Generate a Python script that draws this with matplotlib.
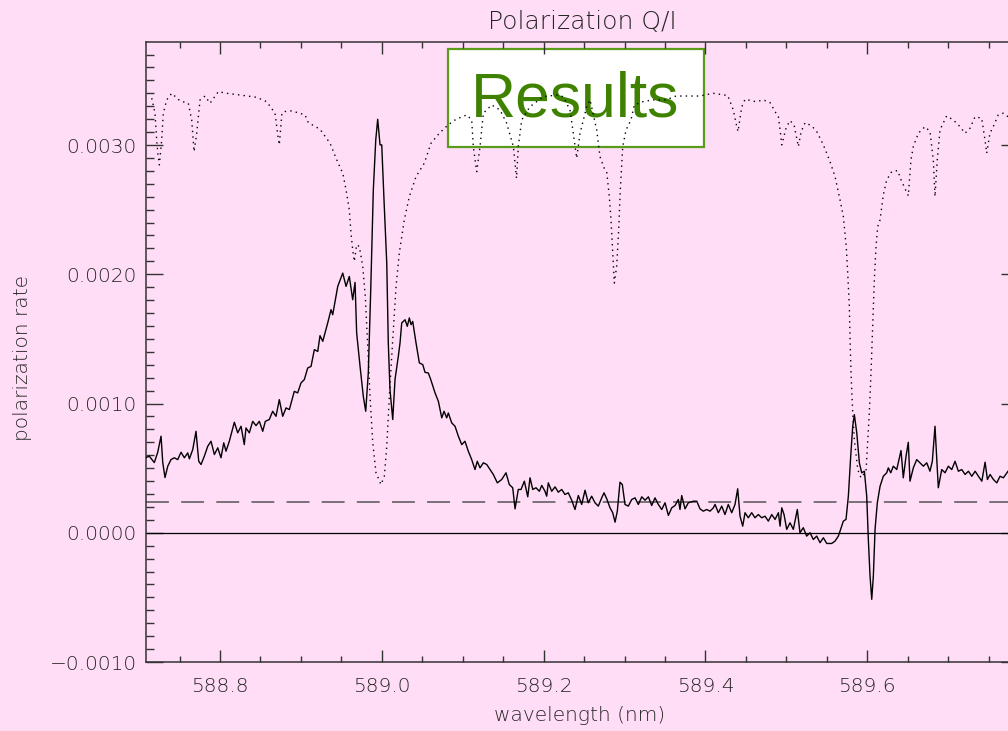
import numpy as np
import matplotlib
matplotlib.use("Agg")
import matplotlib.pyplot as plt
from matplotlib.patches import Rectangle
from matplotlib.ticker import MultipleLocator, FormatStrFormatter, FuncFormatter

# Q/I polarization rate, values in units of 1e-4
wavelength_qi = [
    588.7085, 588.7126, 588.7188, 588.7230, 588.7271, 588.7292, 588.7320, 588.7354, 588.7394, 588.7435,
    588.7477, 588.7518, 588.7559, 588.7601, 588.7621, 588.7663, 588.7703, 588.7737, 588.7765, 588.7806,
    588.7848, 588.7889, 588.7930, 588.7972, 588.8012, 588.8046, 588.8074, 588.8115, 588.8148, 588.8177,
    588.8219, 588.8260, 588.8300, 588.8321, 588.8362, 588.8404, 588.8445, 588.8486, 588.8528, 588.8560,
    588.8609, 588.8651, 588.8692, 588.8733, 588.8775, 588.8816, 588.8857, 588.8918, 588.8960, 588.9001,
    588.9042, 588.9084, 588.9125, 588.9166, 588.9208, 588.9236, 588.9270, 588.9331, 588.9372, 588.9393,
    588.9455, 588.9517, 588.9558, 588.9598, 588.9640, 588.9669, 588.9689, 588.9731, 588.9771, 588.9801,
    588.9833, 588.9863, 588.9895, 588.9925, 588.9949, 588.9978, 588.9999, 589.0027, 589.0061, 589.0080,
    589.0101, 589.0135, 589.0163, 589.0204, 589.0225, 589.0246, 589.0287, 589.0315, 589.0340, 589.0361,
    589.0382, 589.0423, 589.0464, 589.0506, 589.0534, 589.0575, 589.0605, 589.0658, 589.0699, 589.0741,
    589.0769, 589.0802, 589.0822, 589.0864, 589.0905, 589.0946, 589.0988, 589.1028, 589.1069, 589.1111,
    589.1152, 589.1180, 589.1214, 589.1255, 589.1297, 589.1338, 589.1378, 589.1428, 589.1482, 589.1535,
    589.1576, 589.1618, 589.1647, 589.1687, 589.1721, 589.1762, 589.1804, 589.1832, 589.1866, 589.1906,
    589.1947, 589.1977, 589.2017, 589.2038, 589.2058, 589.2100, 589.2141, 589.2182, 589.2224, 589.2264,
    589.2305, 589.2347, 589.2388, 589.2429, 589.2471, 589.2512, 589.2552, 589.2594, 589.2635, 589.2676,
    589.2718, 589.2747, 589.2780, 589.2821, 589.2854, 589.2883, 589.2911, 589.2944, 589.2973, 589.3006,
    589.3047, 589.3089, 589.3130, 589.3171, 589.3213, 589.3254, 589.3295, 589.3336, 589.3377, 589.3418,
    589.3460, 589.3501, 589.3542, 589.3584, 589.3625, 589.3665, 589.3686, 589.3707, 589.3748, 589.3789,
    589.3851, 589.3893, 589.3933, 589.3974, 589.4016, 589.4057, 589.4098, 589.4119, 589.4160, 589.4202,
    589.4242, 589.4283, 589.4325, 589.4366, 589.4399, 589.4428, 589.4461, 589.4490, 589.4530, 589.4572,
    589.4613, 589.4654, 589.4696, 589.4737, 589.4778, 589.4820, 589.4861, 589.4902, 589.4923, 589.4944,
    589.4972, 589.5005, 589.5046, 589.5087, 589.5136, 589.5169, 589.5210, 589.5252, 589.5293, 589.5334,
    589.5376, 589.5417, 589.5458, 589.5500, 589.5561, 589.5602, 589.5643, 589.5664, 589.5705, 589.5738,
    589.5767, 589.5796, 589.5821, 589.5841, 589.5871, 589.5903, 589.5932, 589.5965, 589.5994, 589.6014,
    589.6035, 589.6056, 589.6076, 589.6097, 589.6125, 589.6159, 589.6199, 589.6241, 589.6261, 589.6291,
    589.6323, 589.6365, 589.6418, 589.6446, 589.6480, 589.6508, 589.6529, 589.6570, 589.6612, 589.6653,
    589.6694, 589.6736, 589.6776, 589.6805, 589.6838, 589.6879, 589.6921, 589.6962, 589.7003, 589.7045,
    589.7086, 589.7127, 589.7169, 589.7210, 589.7251, 589.7293, 589.7334, 589.7375, 589.7417, 589.7457,
    589.7486, 589.7519, 589.7560, 589.7602, 589.7642, 589.7683, 589.7741,
]
qi_e4 = [
    5.82, 5.92, 5.43, 6.23, 7.47, 5.43, 4.27, 5.15, 5.66, 5.80,
    5.66, 6.23, 5.80, 6.18, 5.72, 6.44, 7.85, 5.53, 5.28, 5.92,
    6.69, 7.08, 6.05, 6.57, 5.80, 6.96, 6.31, 7.08, 7.85, 8.55,
    7.73, 8.24, 6.82, 8.11, 7.73, 8.62, 8.29, 8.62, 7.85, 8.62,
    8.76, 9.40, 9.01, 10.30, 9.01, 9.66, 9.53, 10.94, 10.82, 11.59,
    11.85, 12.75, 12.87, 14.17, 14.03, 15.25, 14.81, 16.23, 17.26, 16.87,
    19.06, 20.09, 19.06, 19.83, 18.03, 19.37, 15.46, 12.87, 10.56, 9.40,
    12.39, 18.80, 26.53, 30.39, 31.99, 30.01, 30.01, 25.76, 20.87, 14.71,
    11.07, 8.76, 11.85, 13.65, 14.68, 16.23, 16.48, 15.97, 16.62, 16.10,
    16.35, 14.68, 13.14, 13.01, 12.41, 12.36, 11.85, 10.82, 10.17, 8.89,
    9.40, 8.89, 9.27, 8.50, 8.24, 7.47, 6.82, 7.08, 6.31, 5.66,
    4.89, 5.53, 5.02, 5.41, 5.28, 4.89, 4.51, 3.86, 4.12, 4.64,
    3.73, 3.48, 1.85, 3.35, 3.35, 3.99, 2.78, 4.25, 3.35, 3.48,
    3.21, 3.66, 3.21, 2.83, 3.86, 3.21, 3.55, 3.14, 3.35, 2.96,
    3.09, 2.52, 1.80, 2.88, 2.19, 3.29, 2.32, 2.83, 2.32, 2.06,
    2.70, 3.09, 2.63, 1.93, 1.55, 0.82, 1.67, 3.91, 3.73, 2.19,
    2.06, 2.57, 2.70, 2.19, 2.78, 2.52, 2.78, 2.11, 2.70, 2.19,
    1.80, 2.32, 1.34, 1.93, 2.11, 2.57, 1.80, 2.88, 1.85, 2.32,
    2.44, 2.44, 1.85, 1.67, 1.80, 1.67, 1.93, 2.19, 1.55, 2.06,
    1.41, 2.19, 1.55, 2.19, 3.40, 1.28, 0.51, 1.55, 1.16, 1.55,
    1.16, 1.41, 1.16, 1.28, 0.90, 1.41, 1.03, 1.55, 0.51, 1.93,
    1.41, 0.26, 0.77, 0.26, 1.80, 0.00, 0.39, -0.26, 0.00, -0.52,
    -0.26, -0.77, -0.39, -0.83, -0.83, -0.65, -0.26, 0.12, 0.90, 1.03,
    2.83, 5.92, 8.24, 9.14, 7.73, 5.41, 4.64, 4.76, 2.83, -0.52,
    -3.35, -5.15, -3.35, 0.26, 2.32, 3.60, 4.37, 4.64, 5.02, 4.64,
    5.15, 4.89, 6.36, 4.25, 5.92, 7.00, 3.99, 5.02, 5.66, 5.41,
    5.15, 5.41, 4.76, 5.53, 8.24, 3.48, 4.89, 4.64, 5.15, 4.89,
    5.53, 4.76, 4.89, 4.51, 4.76, 4.37, 4.76, 4.37, 3.99, 5.46,
    4.12, 4.51, 4.12, 3.86, 4.37, 4.25, 4.76,
]

# scaled intensity profile (dotted), same units
wavelength_int = [
    588.7156, 588.7196, 588.7217, 588.7233, 588.7250, 588.7279, 588.7299, 588.7341, 588.7403, 588.7506,
    588.7608, 588.7650, 588.7679, 588.7712, 588.7753, 588.7815, 588.7876, 588.7979, 588.8083, 588.8247,
    588.8454, 588.8577, 588.8680, 588.8717, 588.8733, 588.8763, 588.8782, 588.8886, 588.9051, 588.9091,
    588.9236, 588.9360, 588.9443, 588.9517, 588.9558, 588.9598, 588.9619, 588.9640, 588.9660, 588.9689,
    588.9722, 588.9764, 588.9796, 588.9826, 588.9854, 588.9888, 588.9928, 588.9990, 589.0031, 589.0061,
    589.0093, 589.0135, 589.0176, 589.0216, 589.0278, 589.0340, 589.0423, 589.0525, 589.0608, 589.0711,
    589.0818, 589.0917, 589.1050, 589.1111, 589.1131, 589.1173, 589.1214, 589.1255, 589.1358, 589.1461,
    589.1544, 589.1626, 589.1665, 589.1687, 589.1729, 589.1832, 589.1996, 589.2162, 589.2243, 589.2326,
    589.2367, 589.2409, 589.2450, 589.2533, 589.2574, 589.2656, 589.2697, 589.2747, 589.2780, 589.2812,
    589.2833, 589.2854, 589.2874, 589.2903, 589.2928, 589.2948, 589.2978, 589.3019, 589.3080, 589.3121,
    589.3225, 589.3349, 589.3513, 589.3637, 589.3760, 589.3925, 589.4098, 589.4276, 589.4345, 589.4375,
    589.4403, 589.4449, 589.4490, 589.4626, 589.4716, 589.4799, 589.4873, 589.4902, 589.4923, 589.4944,
    589.4997, 589.5046, 589.5096, 589.5149, 589.5182, 589.5232, 589.5314, 589.5376, 589.5458, 589.5540,
    589.5602, 589.5664, 589.5705, 589.5742, 589.5759, 589.5779, 589.5788, 589.5800, 589.5821, 589.5841,
    589.5883, 589.5923, 589.5985, 589.6026, 589.6047, 589.6068, 589.6088, 589.6109, 589.6130, 589.6159,
    589.6199, 589.6241, 589.6303, 589.6377, 589.6418, 589.6455, 589.6508, 589.6541, 589.6570, 589.6632,
    589.6715, 589.6776, 589.6817, 589.6838, 589.6866, 589.6900, 589.6982, 589.7064, 589.7147, 589.7209,
    589.7271, 589.7333, 589.7415, 589.7456, 589.7477, 589.7517, 589.7558, 589.7620, 589.7682, 589.7741,
]
int_e4 = [
    33.62, 32.46, 30.39, 29.24, 28.46, 30.39, 32.46, 33.49, 34.00, 33.41,
    33.23, 31.94, 29.49, 30.91, 33.49, 33.79, 33.23, 34.13, 34.00, 33.87,
    33.69, 33.35, 32.46, 30.65, 30.01, 32.33, 32.58, 32.64, 32.33, 31.73,
    31.22, 30.14, 28.85, 27.82, 26.53, 24.98, 23.18, 21.89, 20.99, 22.28,
    22.15, 20.60, 18.28, 14.42, 10.56, 6.96, 4.64, 3.73, 4.37, 6.69,
    10.56, 14.94, 19.06, 21.64, 24.21, 26.01, 27.56, 28.59, 30.14, 30.91,
    31.55, 31.99, 32.33, 31.94, 29.88, 27.94, 29.88, 32.46, 33.10, 32.71,
    31.68, 29.88, 27.43, 29.88, 31.94, 32.97, 33.74, 33.87, 33.74, 32.71,
    30.91, 28.98, 30.91, 32.97, 33.49, 31.17, 29.10, 28.23, 27.92, 26.01,
    24.21, 21.64, 19.32, 20.60, 23.44, 26.53, 29.88, 31.17, 31.94, 33.10,
    33.35, 33.49, 33.49, 33.79, 33.79, 33.79, 34.00, 33.83, 32.71, 31.79,
    31.04, 32.94, 33.54, 33.35, 33.49, 33.28, 32.46, 32.19, 31.17, 30.01,
    31.32, 31.89, 31.55, 29.88, 31.01, 31.73, 31.48, 31.04, 30.01, 28.72,
    27.56, 25.76, 24.47, 22.05, 20.09, 17.51, 14.94, 12.36, 9.27, 7.21,
    4.89, 4.25, 4.76, 9.27, 12.36, 15.97, 19.57, 22.15, 23.69, 24.21,
    26.14, 27.30, 27.94, 28.02, 27.30, 26.79, 26.07, 28.85, 29.88, 30.91,
    31.42, 31.04, 28.85, 26.01, 28.85, 31.17, 32.25, 31.94, 31.42, 30.91,
    31.30, 32.19, 32.07, 30.39, 29.37, 30.91, 31.42, 32.33, 32.46, 32.19,
]

background_level_e4 = 2.36

x_range = (588.7085, 589.7864)
y_range = (-10.0, 37.97)

BG = "#ffddf6"
INK = "#262626"


def main():
    plt.rcParams["font.family"] = ["DejaVu Sans"]
    plt.rcParams["font.weight"] = 200
    fig = plt.figure(figsize=(10.08, 7.31), dpi=100, facecolor=BG)
    ax = fig.add_axes([146 / 1008, 69 / 731, 872 / 1008, 620 / 731])
    ax.set_facecolor(BG)

    scale = 1e-4
    wq = np.array(wavelength_qi)
    q = np.array(qi_e4) * scale
    wi = np.array(wavelength_int)
    it = np.array(int_e4) * scale

    # overlay label box (sits under the curves)
    ax.add_patch(Rectangle((448 / 1008, 1 - 147 / 731), 256 / 1008, 98 / 731,
                           transform=fig.transFigure, facecolor="white",
                           edgecolor="#5b9b1b", linewidth=1.6, zorder=1))
    ax.text(575 / 1008, 1 - 100 / 731, "Results", transform=fig.transFigure,
            ha="center", va="center", fontsize=45, color="#3f8200",
            family="Liberation Sans", fontweight="normal", zorder=1.5)

    ax.plot(wi, it, color="black", linewidth=1.0, linestyle=(0, (1, 3)), zorder=2)
    ax.plot(wq, q, color="black", linewidth=1.0, zorder=3)
    ax.axhline(0.0, color="black", linewidth=0.9, zorder=2)
    ax.axhline(background_level_e4 * scale, color="#555555", linewidth=1.1,
               linestyle=(0, (15, 8)), zorder=2)

    ax.set_xlim(*x_range)
    ax.set_ylim(y_range[0] * scale, y_range[1] * scale)

    ax.xaxis.set_major_locator(MultipleLocator(0.2))
    ax.xaxis.set_minor_locator(MultipleLocator(0.05))
    ax.xaxis.set_major_formatter(FormatStrFormatter("%.1f"))
    ax.yaxis.set_major_locator(MultipleLocator(0.001))
    ax.yaxis.set_minor_locator(MultipleLocator(0.0001))
    ax.yaxis.set_major_formatter(
        FuncFormatter(lambda v, pos: f"{v:.4f}".replace("-", "\u2212")))

    ax.tick_params(axis="both", which="both", direction="in", top=True, right=True,
                   color="#333333", labelcolor=INK, width=1.0)
    ax.tick_params(axis="x", which="major", length=8.6, pad=11, labelsize=14.5)
    ax.tick_params(axis="x", which="minor", length=4.3)
    ax.tick_params(axis="y", which="major", length=12.2, pad=6.5, labelsize=14.5)
    ax.tick_params(axis="y", which="minor", length=6.1)
    for s in ax.spines.values():
        s.set_color("#333333")
        s.set_linewidth(1.1)

    ax.set_title("Polarization Q/I", fontsize=18, color=INK, fontweight=200,
                 y=1.033, va="center", pad=0)
    ax.set_xlabel("wavelength (nm)", fontsize=14.5, color=INK, fontweight=200, va="center")
    ax.xaxis.set_label_coords(0.497, -0.087)
    ax.set_ylabel("polarization rate", fontsize=14.5, color=INK, fontweight=200, va="center")
    ax.yaxis.set_label_coords(-0.142, 0.49)

    fig.savefig("out.png", dpi=100, facecolor=BG)
    plt.close(fig)


if __name__ == "__main__":
    main()
